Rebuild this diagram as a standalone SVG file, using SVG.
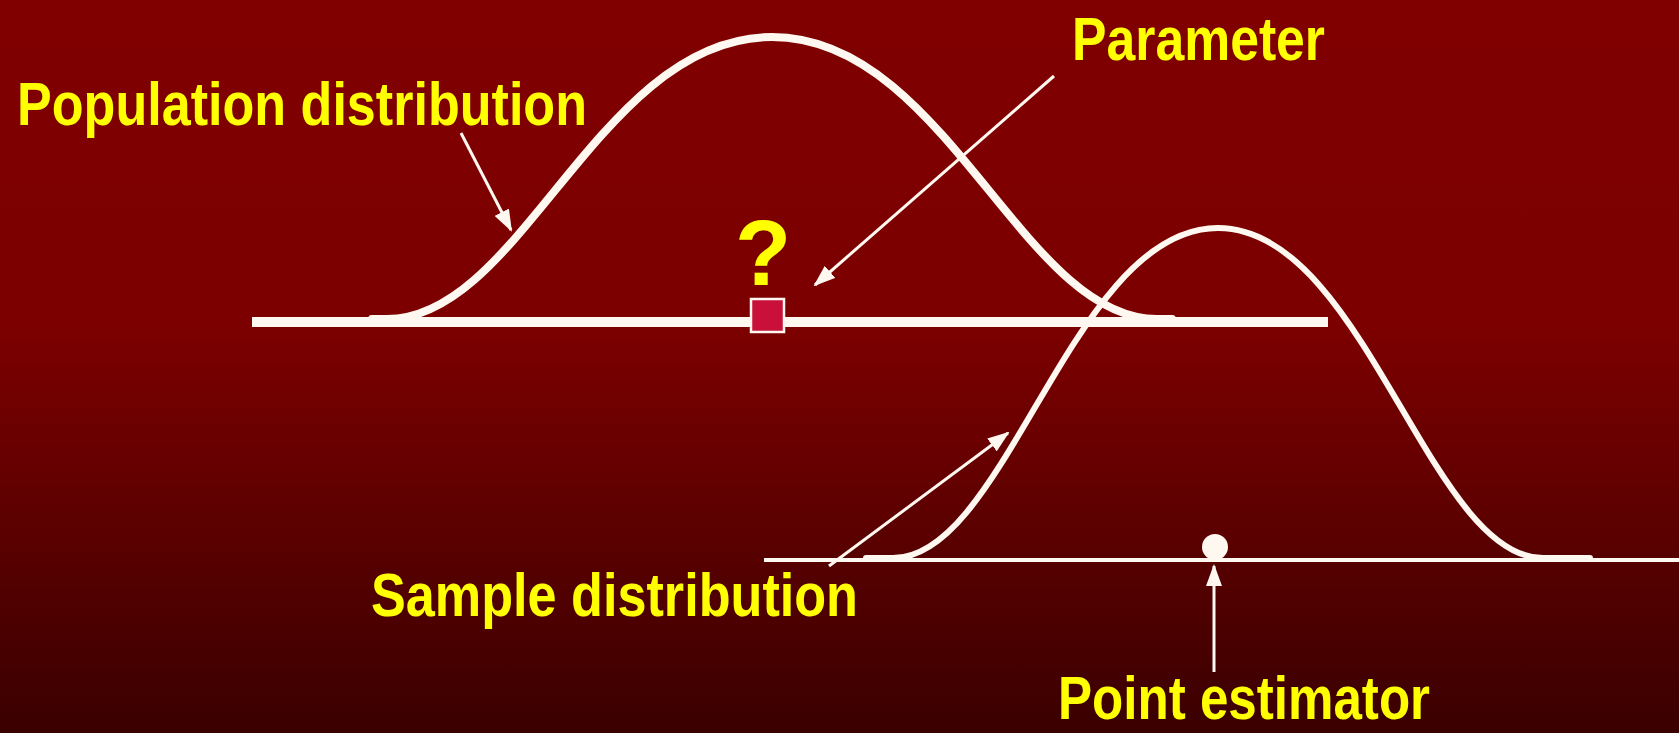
<svg xmlns="http://www.w3.org/2000/svg" width="1679" height="733" viewBox="0 0 1679 733">
  <defs>
    <linearGradient id="bg" x1="0" y1="0" x2="0" y2="1">
      <stop offset="0" stop-color="#800000"/>
      <stop offset="0.45" stop-color="#7c0000"/>
      <stop offset="1" stop-color="#3a0000"/>
    </linearGradient>
    <marker id="arrow" markerUnits="userSpaceOnUse" markerWidth="22" markerHeight="16" refX="20" refY="8" orient="auto">
      <path d="M0,0 L22,8 L0,16 Z" fill="#FFF8F0"/>
    </marker>
    <style>
      .lbl { font-family: "Liberation Sans", Arial, sans-serif; font-weight: bold; font-size: 62px; fill: #FFFF00; }
      .curve { fill: none; stroke: #FFF8F0; stroke-linecap: round; stroke-linejoin: round; }
      .axis { stroke: #FFF8F0; }
      .conn { stroke: #FFF8F0; stroke-width: 3; fill: none; marker-end: url(#arrow); }
    </style>
  </defs>
  <rect x="0" y="0" width="1679" height="733" fill="url(#bg)"/>

  <g id="population">
    <line class="axis" x1="252" y1="322" x2="1328" y2="322" stroke-width="10"/>
    <path class="curve" stroke-width="8" d="M372,319 L387,319 C522,319 599,37 772,37 C945,37 1022,319 1157,319 L1172,319"/>
  </g>

  <g id="sample">
    <line class="axis" x1="764" y1="560" x2="1679" y2="560" stroke-width="4"/>
    <path class="curve" stroke-width="6" d="M866,558 L893,558 C1007,558 1072,228 1218,228 C1364,228 1429,558 1543,558 L1590,558"/>
  </g>

  <g id="parameter-box">
    <rect x="751" y="299" width="33" height="33" fill="#C8103A" stroke="#FFF8F0" stroke-width="2.5"/>
    <text x="763" y="285" text-anchor="middle" font-family="'Liberation Sans', Arial, sans-serif" font-weight="bold" font-size="92" fill="#FFFF00">?</text>
  </g>

  <g id="point">
    <ellipse cx="1215" cy="547" rx="13" ry="13" fill="#FFF8F0"/>
  </g>

  <g id="labels">
    <text class="lbl" x="17" y="125" textLength="570" lengthAdjust="spacingAndGlyphs">Population distribution</text>
    <text class="lbl" x="1072" y="60" textLength="253" lengthAdjust="spacingAndGlyphs">Parameter</text>
    <text class="lbl" x="371" y="616" textLength="487" lengthAdjust="spacingAndGlyphs">Sample distribution</text>
    <text class="lbl" x="1058" y="719" textLength="372" lengthAdjust="spacingAndGlyphs">Point estimator</text>
  </g>

  <g id="connectors">
    <line class="conn" x1="461" y1="133" x2="511" y2="230"/>
    <line class="conn" x1="1054" y1="76" x2="815" y2="285"/>
    <line class="conn" x1="829" y1="566" x2="1008" y2="433"/>
    <line class="conn" x1="1214" y1="672" x2="1214" y2="566"/>
  </g>
</svg>
